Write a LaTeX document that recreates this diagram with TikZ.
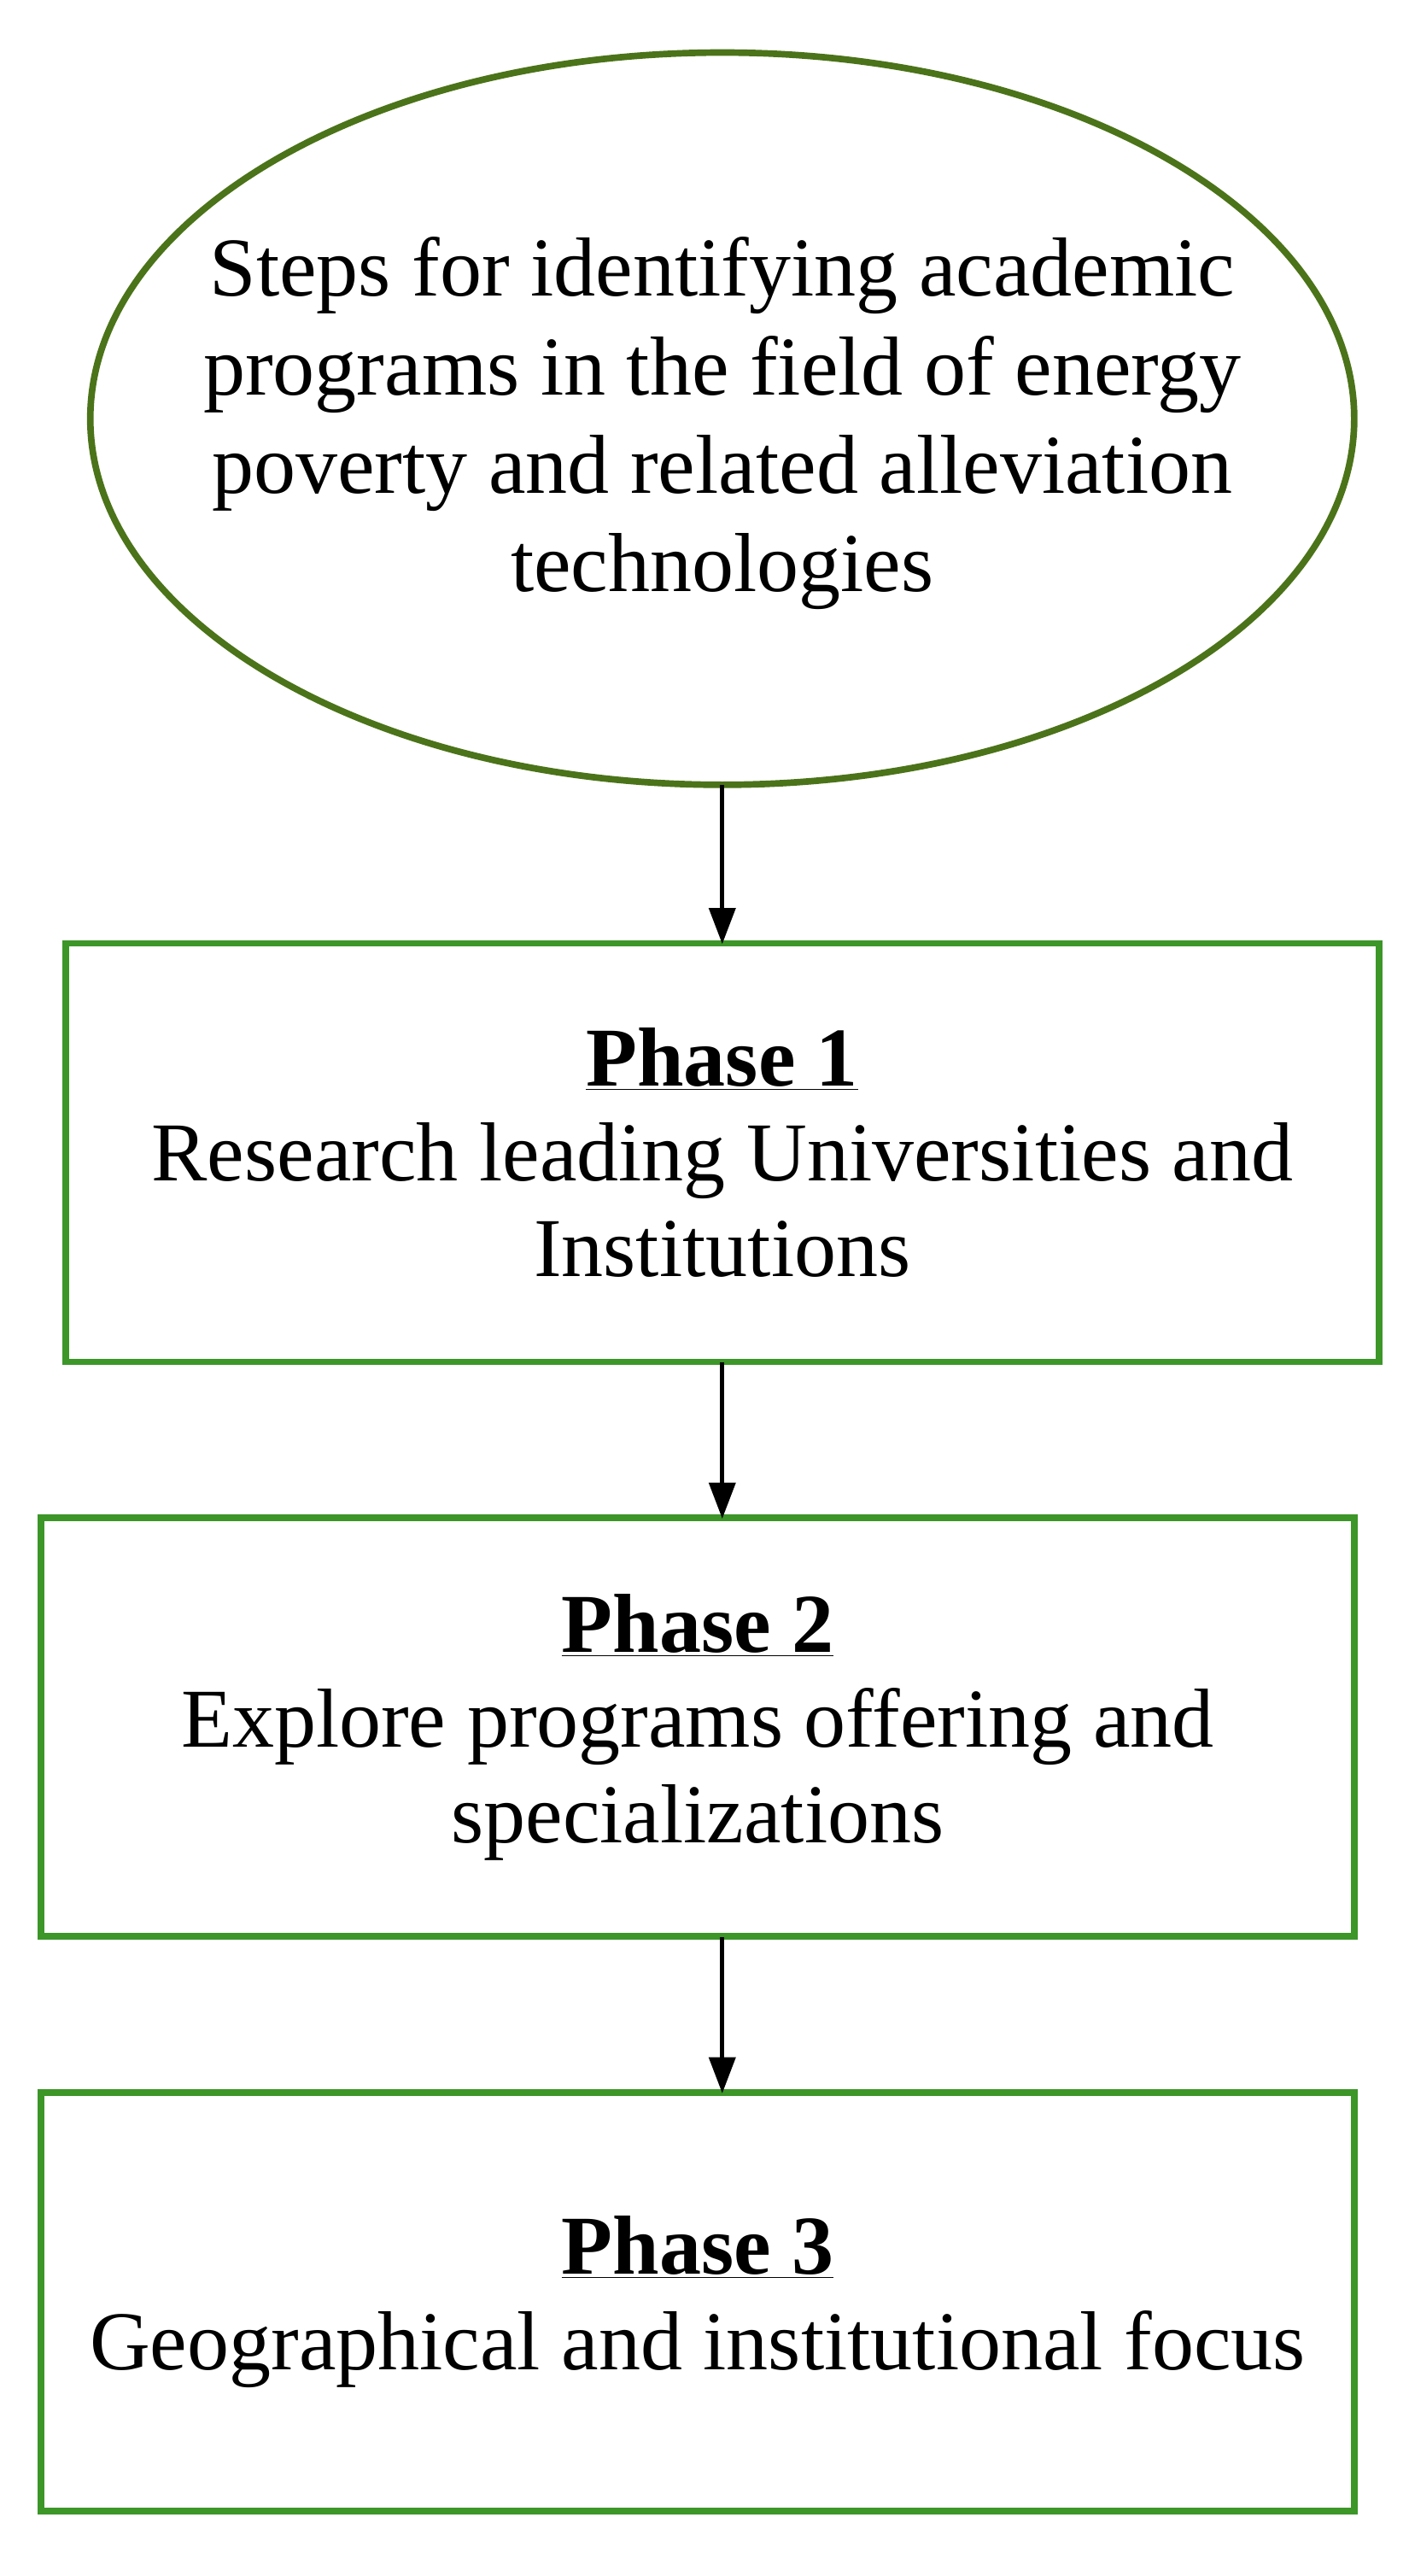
\documentclass[tikz,border=0pt]{standalone}
\usepackage{fontspec}
\setmainfont{Liberation Serif}
\usetikzlibrary{shapes.geometric,arrows.meta}
\definecolor{gb}{RGB}{60,150,40}
\definecolor{ge}{RGB}{75,115,25}
\begin{document}
\begin{tikzpicture}[x=1pt,y=-1pt,
  box/.style={draw=gb,line width=4pt,minimum width=800pt,minimum height=255pt,align=center,font=\fontsize{51}{58}\selectfont},
  arr/.style={-{Triangle[length=22pt,width=16pt]},line width=2.5pt}]
\useasboundingbox (0,0) rectangle (858,1569);
\node[align=center,font=\fontsize{51}{60}\selectfont] (e) at (440,258) {Steps for identifying academic\\programs in the field of energy\\poverty and related alleviation\\technologies};
\draw[ge,line width=4pt] (440,255) ellipse [x radius=385pt,y radius=223pt];
\coordinate (eb) at (440,478);
\node[box] (p1) at (440,702) {\underline{\textbf{Phase 1}}\\Research leading Universities and\\Institutions};
\node[box] (p2) at (425,1052) {\underline{\textbf{Phase 2}}\\Explore programs offering and\\specializations};
\node[box] (p3) at (425,1402) {\underline{\textbf{Phase 3}}\\Geographical and institutional focus};
\draw[arr] (eb) -- (440,575);
\draw[arr] (440,830) -- (440,925);
\draw[arr] (440,1180) -- (440,1275);
\end{tikzpicture}
\end{document}
